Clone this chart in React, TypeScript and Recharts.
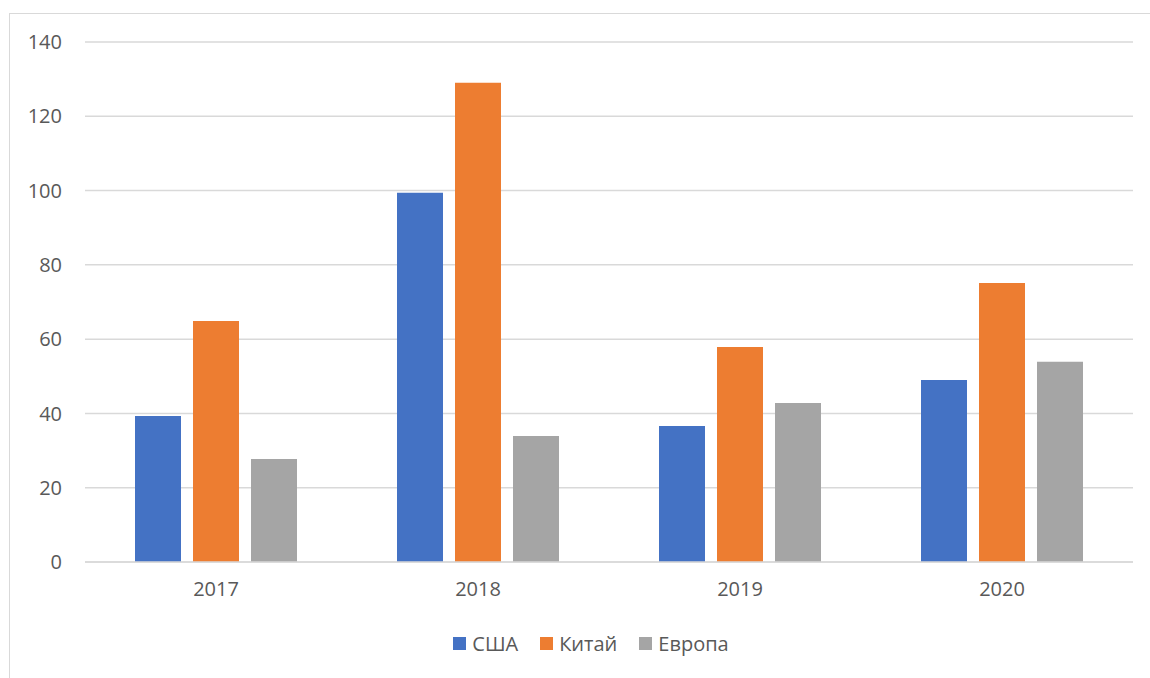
import { BarChart, Bar, XAxis, YAxis, CartesianGrid, Legend } from 'recharts'

const years = ['2017', '2018', '2019', '2020']
const usa = [39.3, 99.4, 36.6, 49]
const china = [64.9, 129, 57.9, 75.1]
const europe = [27.7, 33.9, 42.8, 53.9]
const yTicks = [0, 20, 40, 60, 80, 100, 120, 140]

const series = [
  { key: 'usa', name: 'США', color: '#4472C4' },
  { key: 'china', name: 'Китай', color: '#ED7D31' },
  { key: 'europe', name: 'Европа', color: '#A5A5A5' },
]

const data = years.map((y, i) => ({ year: y, usa: usa[i], china: china[i], europe: europe[i] }))

const FONT = '"Open Sans", sans-serif'
const TEXT = '#595959'

const LegendBox = () => (
  <div style={{ display: 'flex', justifyContent: 'center', alignItems: 'center', fontFamily: FONT, fontSize: 20, color: TEXT }}>
    {series.map((s) => (
      <div key={s.key} style={{ display: 'flex', alignItems: 'center', marginRight: 22 }}>
        <span style={{ width: 13, height: 13, background: s.color, display: 'inline-block', marginRight: 6 }} />
        <span>{s.name}</span>
      </div>
    ))}
  </div>
)

export default function App() {
  return (
    <div style={{ position: 'absolute', left: 0, top: 0, width: 1150, height: 678, overflow: 'hidden', background: '#fff' }}>
      <div style={{ position: 'absolute', left: 9, top: 13, width: 1300, height: 800, border: '1.5px solid #d9d9d9' }} />
      <div style={{ position: 'absolute', left: 0, top: 0 }}>
        <BarChart width={1150} height={678} data={data} margin={{ top: 42, right: 17, left: 25, bottom: 86 }} barSize={46} barGap={12}>
          <CartesianGrid horizontal vertical={false} stroke="#d9d9d9" strokeWidth={1.5} />
          <XAxis
            dataKey="year"
            height={30}
            axisLine={{ stroke: '#d9d9d9', strokeWidth: 1.5 }}
            tickLine={false}
            tickMargin={14}
            tick={{ fontSize: 20, fill: TEXT, fontFamily: FONT }}
          />
          <YAxis
            width={60}
            domain={[0, 140]}
            ticks={yTicks}
            axisLine={false}
            tickLine={false}
            tickMargin={17}
            tick={{ fontSize: 20, fill: TEXT, fontFamily: FONT }}
          />
          <Legend
            content={<LegendBox />}
            layout="horizontal"
            verticalAlign="middle"
            wrapperStyle={{ left: 462, width: 280, top: 630 }}
          />
          {series.map((s) => (
            <Bar key={s.key} dataKey={s.key} name={s.name} fill={s.color} isAnimationActive={false} />
          ))}
        </BarChart>
      </div>
    </div>
  )
}
